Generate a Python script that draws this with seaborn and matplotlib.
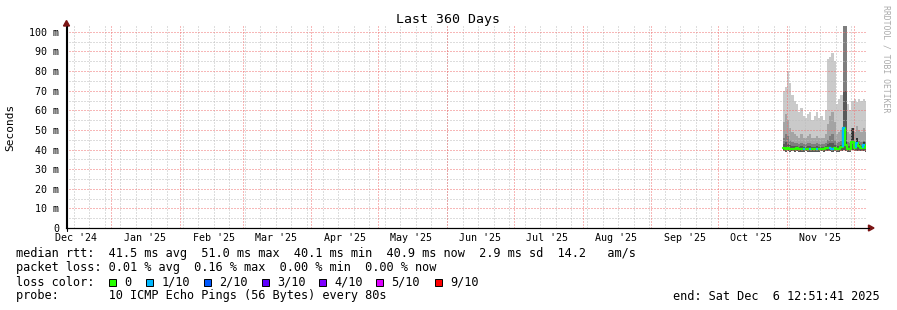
import numpy as np
import pandas as pd
import matplotlib
matplotlib.use("Agg")
import matplotlib.pyplot as plt
import matplotlib.dates as mdates
from matplotlib.patches import Rectangle, Polygon
from matplotlib.lines import Line2D
import seaborn as sns

W, H = 897, 310

# ---------------- data (values in ms) ----------------
start_time = "2024-12-11 12:51:41"
end_time = "2025-12-06 12:51:41"
first_day = "2025-10-30"

ping_min = [39.2, 39.0, 39.3, 38.9, 39.1, 38.8, 39.2, 39.0, 38.7, 39.0, 39.1, 38.8, 38.7,
            38.9, 39.0, 38.7, 38.9, 39.1, 38.8, 39.2, 39.4, 39.1, 38.9, 39.3, 38.9, 39.0,
            39.5, 40.0, 39.4, 38.9, 39.0, 39.6, 39.2, 39.5, 39.3, 39.1, 39.4, 39.0]
smoke_p10 = [70, 72, 80, 74, 68, 65, 63, 59, 61, 57, 56, 58, 59, 55, 57, 59, 56, 57, 55,
             60, 86, 87, 89, 85, 63, 66, 68, 106, 106, 63, 60, 65, 66, 64, 66, 65, 66, 65]
smoke_p9 = [54, 58, 55, 51, 49, 48, 47, 46, 48, 46, 46, 47, 48, 46, 46, 47, 46, 46, 46,
            48, 53, 57, 59, 54, 48, 49, 50, 106, 106, 49, 48, 51, 49, 52, 50, 49, 51, 49]
smoke_p8 = [46, 48, 47, 45, 44, 43.5, 43.5, 43, 43.5, 43, 43, 43.5, 43.5, 43, 43, 43.5, 43,
            43, 43, 43.5, 45, 47, 48, 45, 43.5, 44, 44.5, 106, 106, 44, 43.5, 45, 44, 45,
            44.5, 44, 44.5, 44]
smoke_p7 = [43, 44, 43, 42.5, 42, 41.8, 41.8, 41.5, 41.8, 41.5, 41.5, 41.8, 41.8, 41.5,
            41.5, 41.8, 41.5, 41.5, 41.5, 41.8, 43, 43.5, 43.5, 42.5, 41.8, 42, 42.5, 70,
            70, 42, 41.8, 43, 42, 44, 43, 42, 43, 42]
smoke_p6 = [41.2, 41.0, 41.3, 40.9, 41.0, 40.8, 41.1, 40.9, 40.7, 40.9, 41.0, 40.8, 40.7,
            40.8, 40.9, 40.7, 40.9, 41.0, 40.8, 41.1, 41.5, 41.2, 41.0, 41.4, 40.9, 41.0,
            42.0, 51.5, 44.0, 40.9, 41.0, 51.0, 41.5, 46.0, 43.0, 41.5, 44.0, 41.0]
median_rtt = [40.8, 40.5, 40.7, 40.4, 40.5, 40.3, 40.6, 40.4, 40.2, 40.4, 40.5, 40.3, 40.2,
              40.3, 40.4, 40.2, 40.4, 40.5, 40.3, 40.6, 41.0, 40.7, 40.5, 40.9, 40.4, 40.5,
              41.2, 51.0, 42.5, 40.4, 40.5, 44.0, 41.0, 43.5, 42.0, 41.0, 42.5, 40.9]
loss_tenths = [0, 0, 0, 0, 0, 0, 0, 0, 0, 1, 0, 0, 1, 0, 0, 1, 0, 0, 0, 0, 0, 1, 1, 0, 0,
               0, 0, 1, 0, 0, 0, 0, 0, 1, 0, 0, 1, 0]

smoke_colors = ["#cacaca", "#a4a4a4", "#7e7e7e", "#585858", "#323232"]
loss_levels = [0, 1, 2, 3, 4, 5, 9]
loss_labels = ["0", "1/10", "2/10", "3/10", "4/10", "5/10", "9/10"]
loss_colors = ["#26ff00", "#00b8ff", "#0059ff", "#5e00ff", "#7e00ff", "#dd00ff", "#ff0000"]

y_ticks = [0, 10, 20, 30, 40, 50, 60, 70, 80, 90, 100]
y_tick_labels = ["0", "10 m", "20 m", "30 m", "40 m", "50 m", "60 m", "70 m", "80 m",
                 "90 m", "100 m"]

title = "Last 360 Days"
y_label = "Seconds"
credit = "RRDTOOL / TOBI OETIKER"
line_rtt = "median rtt:  41.5 ms avg  51.0 ms max  40.1 ms min  40.9 ms now  2.9 ms sd  14.2   am/s"
line_loss = "packet loss: 0.01 % avg  0.16 % max  0.00 % min  0.00 % now"
line_color = "loss color:"
line_probe = "probe:       10 ICMP Echo Pings (56 Bytes) every 80s"
line_end = "end: Sat Dec  6 12:51:41 2025"

# ---------------- style ----------------
sns.set_theme(style="white", rc={"axes.facecolor": "white", "figure.facecolor": "white"})
plt.rcParams["font.family"] = ["DejaVu Sans Mono", "DejaVu Sans"]
plt.rcParams["text.color"] = "black"

fig = plt.figure(figsize=(W / 100, H / 100), dpi=100)
ax = fig.add_axes([66 / W, (H - 228) / H, 800 / W, 202 / H])

t0 = pd.Timestamp(start_time)
t1 = pd.Timestamp(end_time)
days = pd.date_range(first_day, periods=len(median_rtt), freq="D")
x_edges = list(days) + [t1]


def ext(v):
    return list(v) + [v[-1]]


# smoke bands (outer -> inner)
tops = [smoke_p10, smoke_p9, smoke_p8, smoke_p7]
for top, col in zip(tops, smoke_colors[:4]):
    ax.fill_between(x_edges, ext(ping_min), ext(top), step="post", color=col, lw=0,
                    zorder=1)
ax.fill_between(x_edges, ext(median_rtt), ext(smoke_p6), step="post",
                color=smoke_colors[4], lw=0, zorder=1.5)

# grid (drawn above smoke like rrdtool), faint dotted
grid_gray = "#bdbdbd"
grid_red = "#f07070"
dot = (0, (1, 2))
gkw = dict(lw=0.72, ls=dot)
for d in pd.date_range(t0.normalize(), t1, freq="W-SUN"):
    ax.axvline(d, color=grid_gray, zorder=3, **gkw)
for v in range(5, 101, 10):
    ax.axhline(v, color=grid_gray, zorder=3, **gkw)
for d in pd.date_range(t0.normalize(), t1, freq="MS"):
    ax.axvline(d, color=grid_red, zorder=3.1, **gkw)
for v in y_ticks[1:]:
    ax.axhline(v, color=grid_red, zorder=3.1, **gkw)

# median line colored by loss
df = pd.DataFrame({"t": x_edges, "median": ext(median_rtt)})
sns.lineplot(data=df, x="t", y="median", drawstyle="steps-post", color=loss_colors[0],
             lw=1.6, estimator=None, ax=ax, zorder=4)
for i, lv in enumerate(loss_tenths):
    if lv > 0:
        col = loss_colors[loss_levels.index(lv)] if lv in loss_levels else loss_colors[-1]
        prev = median_rtt[i - 1] if i > 0 else median_rtt[i]
        ax.plot([x_edges[i], x_edges[i], x_edges[i + 1]], [prev, median_rtt[i], median_rtt[i]],
                color=col, lw=1.6, zorder=4.5, solid_capstyle="butt")

# axes
ax.set_xlim(t0, t1)
ax.set_ylim(0, 103)
ax.set_xlabel("")
ax.set_ylabel("")
ax.set_yticks(y_ticks)
ax.set_yticklabels(y_tick_labels)
ax.xaxis.set_major_locator(mdates.MonthLocator(bymonthday=16))
ax.xaxis.set_major_formatter(mdates.DateFormatter("%b '%y"))
ax.tick_params(axis="y", length=0, pad=5, labelsize=7.2, colors="black")
ax.tick_params(axis="x", which="both", length=0, pad=3.5, labelsize=7.2, colors="black")
ax.grid(False)
for s in ["top", "right"]:
    ax.spines[s].set_visible(False)
for s in ["left", "bottom"]:
    ax.spines[s].set_color("black")
    ax.spines[s].set_linewidth(0.8)
    ax.spines[s].set_zorder(5)


def fx(px):
    return px / W


def fy(py):
    return 1 - py / H


# axis extension + arrows
fig.add_artist(Line2D([fx(66), fx(869)], [fy(228), fy(228)], color="black", lw=0.8))
fig.add_artist(Line2D([fx(66.5), fx(66.5)], [fy(231), fy(26)], color="black", lw=0.8))
arrow_col = "#7a1414"
fig.add_artist(Polygon([[fx(66.5), fy(20.5)], [fx(63.5), fy(26)], [fx(69.5), fy(26)]],
                       closed=True, color=arrow_col, transform=fig.transFigure))
fig.add_artist(Polygon([[fx(874), fy(228)], [fx(868.5), fy(225)], [fx(868.5), fy(231)]],
                       closed=True, color=arrow_col, transform=fig.transFigure))

# texts
fig.text(fx(448), fy(19), title, ha="center", va="center", fontsize=9.5)
fig.text(fx(10), fy(127), y_label, ha="center", va="center", rotation=90, fontsize=8)
fig.text(fx(886), fy(59), credit, ha="center", va="center", rotation=270, fontsize=5.9,
         color="#aaaaaa")

fs = 8.6
fig.text(fx(16), fy(254), line_rtt, ha="left", va="center", fontsize=fs)
fig.text(fx(16), fy(268), line_loss, ha="left", va="center", fontsize=fs)
fig.text(fx(16), fy(282), line_color, ha="left", va="center", fontsize=fs)
sw_x = [108.5, 146, 203.5, 262, 319, 376, 435]
for sx, lab, col in zip(sw_x, loss_labels, loss_colors):
    fig.add_artist(Rectangle((fx(sx), fy(285.5)), 7 / W, 7 / H, transform=fig.transFigure,
                             facecolor=col, edgecolor="black", lw=0.7))
    fig.text(fx(sx + 15.5), fy(282), lab, ha="left", va="center", fontsize=fs)
fig.text(fx(16), fy(296), line_probe, ha="left", va="center", fontsize=fs)
fig.text(fx(880), fy(296), line_end, ha="right", va="center", fontsize=fs)

fig.savefig("out.png", dpi=100, facecolor="white")
